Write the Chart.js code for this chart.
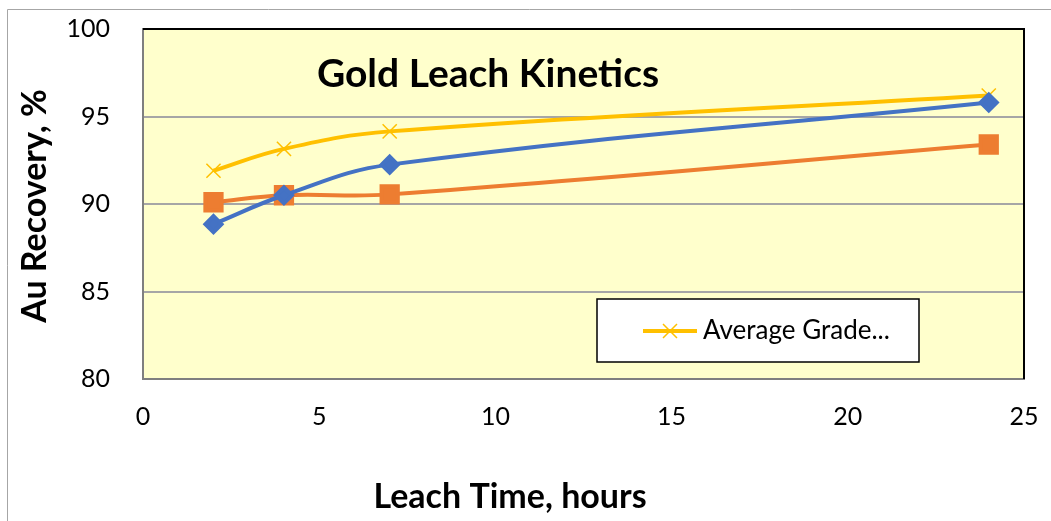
<!DOCTYPE html>
<html>
<head>
<meta charset="utf-8">
<script src="https://cdn.jsdelivr.net/npm/chart.js@4/dist/chart.umd.min.js"></script>
<style>
  html, body { margin: 0; padding: 0; background: #fff; }
  #wrap { width: 1051px; height: 521px; position: relative; }
</style>
</head>
<body>
<div id="wrap"><canvas id="myChart" width="1051" height="521"></canvas></div>
<script>
'use strict';

// leach time, hours
let leachTime = [2, 4, 7, 24];
// recovery per series, %
let blueRecovery = [88.85, 90.5, 92.25, 95.8];
let orangeRecovery = [90.1, 90.5, 90.55, 93.4];
let averageGrade = [91.9, 93.15, 94.15, 96.2];
let seriesNames = ['Series 1', 'Series 2', 'Average Grade...'];
let yTicks = [80, 85, 90, 95, 100];
let xTicks = [0, 5, 10, 15, 20, 25];

let fontFamily = 'Lato, "Open Sans", sans-serif';

function toPoints(values) {
    let pts = [];
    for (let i = 0; i < leachTime.length; i++) {
        pts.push({ x: leachTime[i], y: values[i] });
    }
    return pts;
}

// no extra room for tick labels hanging over the plot edges
function noOverflow(scale) {
    scale.paddingTop = 0;
    scale.paddingBottom = 0;
    scale.paddingLeft = 0;
    scale.paddingRight = 0;
}

// plot background, frame, title, axis titles and the legend box
let decorPlugin = {
    id: 'decor',
    beforeDraw(chart) {
        let ctx = chart.ctx;
        let a = chart.chartArea;
        ctx.save();
        ctx.fillStyle = '#ffffcc';
        ctx.fillRect(a.left, a.top, a.right - a.left, a.bottom - a.top);
        // outer chart border
        ctx.strokeStyle = '#a6a6a6';
        ctx.lineWidth = 1;
        ctx.beginPath();
        ctx.moveTo(7.5, 600);
        ctx.lineTo(7.5, 9.5);
        ctx.lineTo(1100, 9.5);
        ctx.stroke();
        ctx.restore();
    },
    afterDraw(chart) {
        let ctx = chart.ctx;
        let a = chart.chartArea;
        ctx.save();
        // top and right frame of plot area
        ctx.strokeStyle = '#000';
        ctx.lineWidth = 2;
        ctx.beginPath();
        ctx.moveTo(a.left, a.top);
        ctx.lineTo(a.right, a.top);
        ctx.lineTo(a.right, a.bottom);
        ctx.stroke();

        // chart title
        ctx.fillStyle = '#000';
        ctx.font = 'bold 39px ' + fontFamily;
        ctx.textAlign = 'center';
        ctx.textBaseline = 'middle';
        ctx.fillText('Gold Leach Kinetics', 488, 74);

        // axis titles
        ctx.font = 'bold 34px ' + fontFamily;
        ctx.fillText('Leach Time, hours', 510, 497);
        ctx.save();
        ctx.translate(35, 206);
        ctx.rotate(-Math.PI / 2);
        ctx.fillText('Au Recovery, %', 0, 0);
        ctx.restore();

        // legend (only the last series shows)
        ctx.fillStyle = '#fff';
        ctx.fillRect(597, 299, 322, 63);
        ctx.strokeStyle = '#000';
        ctx.lineWidth = 1.5;
        ctx.strokeRect(597, 299, 322, 63);
        ctx.strokeStyle = '#ffc000';
        ctx.lineWidth = 4;
        ctx.beginPath();
        ctx.moveTo(643, 331);
        ctx.lineTo(697, 331);
        ctx.stroke();
        ctx.lineWidth = 1.5;
        ctx.beginPath();
        ctx.moveTo(663, 324);
        ctx.lineTo(677, 338);
        ctx.moveTo(677, 324);
        ctx.lineTo(663, 338);
        ctx.stroke();
        ctx.fillStyle = '#000';
        ctx.font = '26px ' + fontFamily;
        ctx.textAlign = 'left';
        ctx.fillText(seriesNames[2], 703, 331);
        ctx.restore();
    }
};

let ctx = document.getElementById('myChart').getContext('2d');
let myChart = new Chart(ctx, {
    type: 'line',
    data: {
        datasets: [{
            label: seriesNames[0],
            data: toPoints(blueRecovery),
            borderColor: '#4472c4',
            backgroundColor: '#4472c4',
            borderWidth: 4,
            pointStyle: 'rectRot',
            pointRadius: 8,
            tension: 0.4
        },
        {
            label: seriesNames[1],
            data: toPoints(orangeRecovery),
            borderColor: '#ed7d31',
            backgroundColor: '#ed7d31',
            borderWidth: 4,
            pointStyle: 'rect',
            pointRadius: 11.5,
            tension: 0.4
        },
        {
            label: seriesNames[2],
            data: toPoints(averageGrade),
            borderColor: '#ffc000',
            backgroundColor: '#ffc000',
            borderWidth: 4,
            pointStyle: 'crossRot',
            pointRadius: 10,
            pointBorderWidth: 1.5,
            tension: 0.4
        }]
    },
    options: {
        responsive: false,
        animation: false,
        layout: { padding: { left: 0, top: 29, right: 27, bottom: 0 } },
        plugins: {
            legend: { display: false },
            tooltip: { enabled: false }
        },
        scales: {
            x: {
                type: 'linear',
                min: 0,
                max: 25,
                afterFit(scale) { scale.height = 142; noOverflow(scale); },
                afterBuildTicks(scale) { scale.ticks = xTicks.map(v => ({ value: v })); },
                grid: { display: false, drawTicks: false },
                border: { color: '#7f7f7f', width: 2 },
                ticks: { color: '#000', padding: 23, font: { family: fontFamily, size: 25 } }
            },
            y: {
                min: 80,
                max: 100,
                afterFit(scale) { scale.width = 143; noOverflow(scale); },
                afterBuildTicks(scale) { scale.ticks = yTicks.map(v => ({ value: v })); },
                grid: { color: '#a6a6a6', lineWidth: 2, drawTicks: false },
                border: { color: '#7f7f7f', width: 2 },
                ticks: { color: '#000', padding: 33, font: { family: fontFamily, size: 25 } }
            }
        }
    },
    plugins: [decorPlugin]
});
</script>
</body>
</html>
